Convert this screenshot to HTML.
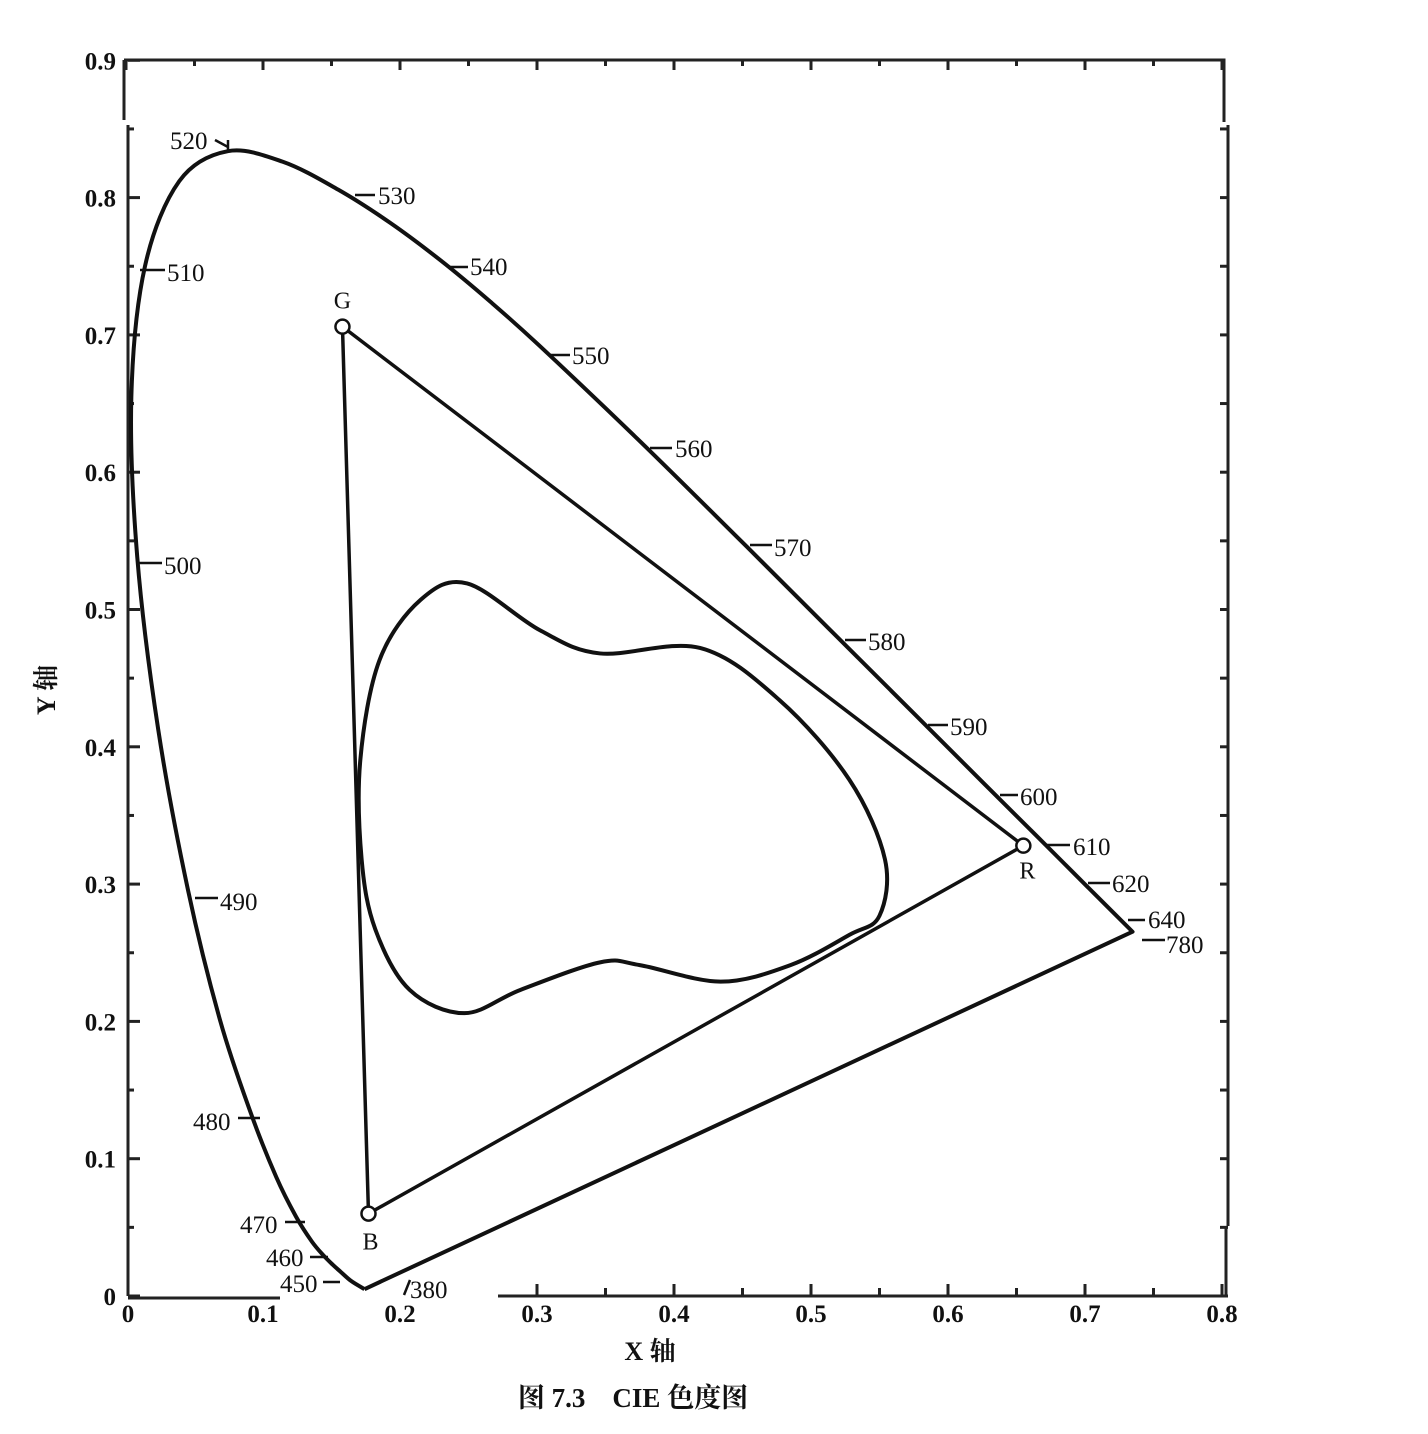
<!DOCTYPE html>
<html><head><meta charset="utf-8"><style>
html,body{margin:0;padding:0;background:#fff;}
svg{display:block;}
text{font-family:"Liberation Serif","Noto Serif CJK SC",serif;fill:#111;}
</style></head><body>
<svg id="chart" width="1428" height="1434" viewBox="0 0 1428 1434">
<g id="axes"></g>
<g id="marks"></g>
<g id="labels"></g>
<text x="55" y="690" font-size="26" font-weight="bold" text-anchor="middle" transform="rotate(-90 55 690)" font-family="Liberation Sans, Noto Sans CJK SC, sans-serif">Y 轴</text>
<text x="650" y="1360" font-size="26" font-weight="bold" text-anchor="middle" font-family="Liberation Sans, Noto Sans CJK SC, sans-serif">X 轴</text>
<text x="633" y="1407" font-size="27" font-weight="bold" text-anchor="middle" font-family="Liberation Serif, Noto Serif CJK SC, serif">图 7.3　CIE 色度图</text>
</svg>
<script>
const xTicks=[0,0.1,0.2,0.3,0.4,0.5,0.6,0.7,0.8];
const xTickLabels=["0","0.1","0.2","0.3","0.4","0.5","0.6","0.7","0.8"];
const yTicks=[0,0.1,0.2,0.3,0.4,0.5,0.6,0.7,0.8,0.9];
const yTickLabels=["0","0.1","0.2","0.3","0.4","0.5","0.6","0.7","0.8","0.9"];
const locusX=[0.1741,0.1644,0.1566,0.1510,0.1440,0.1355,0.1241,0.1096,0.0913,0.0687,0.0454,0.0235,0.0082,0.0039,0.0139,0.0389,0.0743,0.1142,0.1547,0.1929,0.2296,0.2658,0.3016,0.3731,0.4441,0.5125,0.5752,0.6270,0.6658,0.6915,0.7190,0.7347];
const locusY=[0.0050,0.0109,0.0177,0.0227,0.0297,0.0399,0.0578,0.0868,0.1327,0.2007,0.2950,0.4127,0.5384,0.6548,0.7502,0.8120,0.8338,0.8262,0.8059,0.7816,0.7543,0.7243,0.6923,0.6245,0.5547,0.4866,0.4242,0.3725,0.3340,0.3083,0.2809,0.2653];
const primNames=["G","R","B"];
const primX=[0.158,0.655,0.177];
const primY=[0.706,0.328,0.060];
const gamutX=[0.249,0.302,0.346,0.419,0.477,0.528,0.554,0.550,0.528,0.485,0.434,0.375,0.346,0.288,0.247,0.207,0.182,0.172,0.171,0.185,0.215];
const gamutY=[0.519,0.485,0.468,0.472,0.434,0.376,0.318,0.277,0.263,0.241,0.229,0.241,0.243,0.223,0.206,0.223,0.267,0.318,0.390,0.463,0.507];
const wlLabels=["520","530","540","550","560","570","580","590","600","610","620","640","780","510","500","490","480","470","460","450","380"];

const NS="http://www.w3.org/2000/svg";
function X(v){return 126+v*1370;}
function Y(v){return 1296-v*1373;}
function mk(tag,attrs,parent){const e=document.createElementNS(NS,tag);for(const k in attrs)e.setAttribute(k,attrs[k]);parent.appendChild(e);return e;}
const axes=document.getElementById('axes'),marks=document.getElementById('marks'),labels=document.getElementById('labels');
const st={stroke:"#222","stroke-width":3,fill:"none"};
// frame
let f=mk('path',Object.assign({d:"M124 60 H1224 V122 M1228 125 V1226 M128 125 V1296 M124 60 V120 M498 1296 H1226 V1226 M128 1298 H280"},st),axes);


// ticks
for(let v=0;v<=0.801;v+=0.05){const x=X(v);const big=Math.abs(v*10-Math.round(v*10))<1e-6;
 let t=mk('line',{x1:x,y1:60,x2:x,y2:big?70:66,stroke:"#222","stroke-width":3},axes);
 
 
 if(x>498){let b=mk('line',{x1:x,y1:1296,x2:x,y2:big?1284:1288,stroke:"#222","stroke-width":3},axes);
 
 }}
for(let v=0;v<=0.901;v+=0.05){const y=Y(v);const big=Math.abs(v*10-Math.round(v*10))<1e-6;
 let t=mk('line',{x1:128,y1:y,x2:big?140:134,y2:y,stroke:"#222","stroke-width":3},axes);
 
 
 if(y>125){let r=mk('line',{x1:1228,y1:y,x2:1220,y2:y,stroke:"#222","stroke-width":3},axes);
 
 }}
xTicks.forEach((v,i)=>{let t=mk('text',{x:X(v)-(i==0?-2:0),y:1322,"font-size":25,"text-anchor":"middle","font-weight":"bold"},axes);t.textContent=xTickLabels[i];
 
 });
yTicks.forEach((v,i)=>{let t=mk('text',{x:116,y:Y(v)+9,"font-size":25,"text-anchor":"end","font-weight":"bold"},axes);t.textContent=yTickLabels[i];
 
 });
// spectral locus (smooth)
function smooth(xs,ys,closed){const p=xs.map((x,i)=>[X(x),Y(ys[i])]);const n=p.length;let d="M"+p[0][0]+" "+p[0][1];
 const g=i=>closed?p[(i+n)%n]:p[Math.max(0,Math.min(n-1,i))];const m=closed?n:n-1;
 for(let i=0;i<m;i++){const p0=g(i-1),p1=g(i),p2=g(i+1),p3=g(i+2);
  d+=` C${p1[0]+(p2[0]-p0[0])/6} ${p1[1]+(p2[1]-p0[1])/6} ${p2[0]-(p3[0]-p1[0])/6} ${p2[1]-(p3[1]-p1[1])/6} ${p2[0]} ${p2[1]}`;}
 return closed?d+"Z":d;}
let loc=mk('path',{d:smooth(locusX,locusY,false)+` L${X(locusX[0])} ${Y(locusY[0])}`,stroke:"#111","stroke-width":4,fill:"none","stroke-linejoin":"round"},marks);


let tri=mk('path',{d:`M${X(primX[0])} ${Y(primY[0])} L${X(primX[1])} ${Y(primY[1])} L${X(primX[2])} ${Y(primY[2])} Z`,stroke:"#111","stroke-width":3.5,fill:"none"},marks);


let gam=mk('path',{d:smooth(gamutX,gamutY,true),stroke:"#111","stroke-width":4,fill:"none"},marks);


const offs=[[0,-18],[4,33],[2,36]];
primNames.forEach((n,i)=>{let c=mk('circle',{cx:X(primX[i]),cy:Y(primY[i]),r:7,fill:"#fff",stroke:"#111","stroke-width":2.5},marks);
 
 
 let t=mk('text',{x:X(primX[i])+offs[i][0],y:Y(primY[i])+offs[i][1],"font-size":24,"text-anchor":"middle"},marks);t.textContent=n;
 
 });
// wavelength label positions (pixels: tick x1,y1,x2,y2,text x,y)
const pos=[[215,140,228,147,170,149],[355,195,375,195,378,204],[448,267,468,267,470,275],[548,355,570,355,572,364],[650,448,672,448,675,457],[750,545,772,545,774,556],[845,640,866,640,868,650],[928,725,948,725,950,735],[1000,795,1018,795,1020,805],[1045,845,1070,845,1073,855],[1088,883,1110,883,1112,892],[1128,920,1145,920,1148,928],[1142,940,1165,940,1166,953],[140,270,165,270,167,281],[137,563,162,563,164,574],[195,898,218,898,220,910],[238,1118,260,1118,193,1130],[285,1222,305,1222,240,1233],[310,1257,328,1257,266,1266],[323,1282,340,1282,280,1292],[410,1280,404,1295,410,1298]];
wlLabels.forEach((w,i)=>{const p=pos[i];
 let l=mk('line',{x1:p[0],y1:p[1],x2:p[2],y2:p[3],stroke:"#111","stroke-width":2.5},labels);
 
 
 if(i==0){let l2=mk('line',{x1:228,y1:140,x2:228,y2:152,stroke:"#111","stroke-width":2.5},labels);}
 let t=mk('text',{x:p[4],y:p[5],"font-size":25},labels);t.textContent=w;
 
 });
</script>
</body></html>
